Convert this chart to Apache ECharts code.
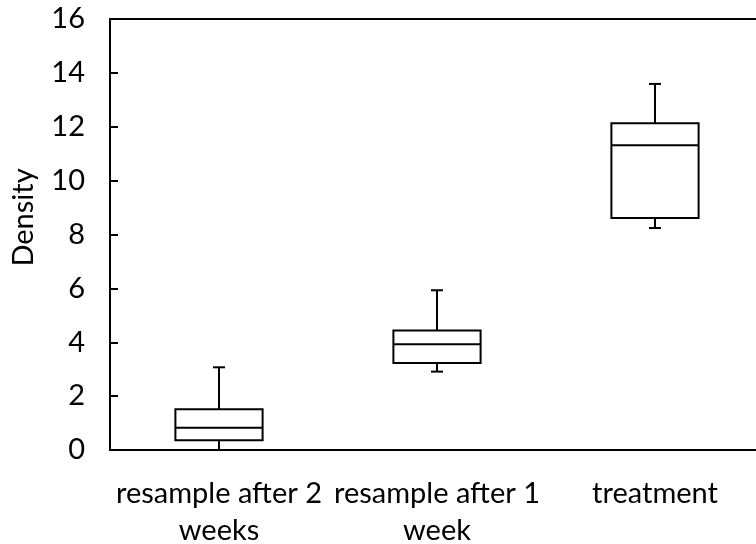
<!DOCTYPE html>
<html>
<head>
<meta charset="utf-8">
<script src="https://cdn.jsdelivr.net/npm/echarts@6/dist/echarts.min.js"></script>
<style>
  html, body { margin: 0; padding: 0; background: #fff; }
  .main { width: 756px; height: 544px; }
</style>
</head>
<body>
<div class="main" id="main"></div>
<script>
var categories = ['resample after 2\nweeks', 'resample after 1\nweek', 'treatment'];
var mins    = [0,    2.91, 8.24];
var q1s     = [0.36, 3.23, 8.61];
var medians = [0.83, 3.93, 11.31];
var q3s     = [1.51, 4.44, 12.13];
var maxs    = [3.07, 5.93, 13.59];
var yTicks  = [0, 2, 4, 6, 8, 10, 12, 14, 16];

var FONT = 'Lato';

function main() {
  var boxData = [];
  for (var i = 0; i < categories.length; i++) {
    boxData.push([i, mins[i], q1s[i], medians[i], q3s[i], maxs[i]]);
  }

  // box + whiskers drawn from the data through the axes
  function renderBox(params, api) {
    var x = api.value(0);
    var lo = api.coord([x, api.value(1)]);
    var b  = api.coord([x, api.value(2)]);
    var m  = api.coord([x, api.value(3)]);
    var t  = api.coord([x, api.value(4)]);
    var hi = api.coord([x, api.value(5)]);
    var w = api.size([1, 0])[0] * 0.4;
    var cap = 12;
    var cx = b[0];
    var st = { stroke: '#000', lineWidth: 2, fill: null };
    return {
      type: 'group',
      children: [
        { type: 'line', shape: { x1: cx, y1: t[1], x2: cx, y2: hi[1] }, style: st },
        { type: 'line', shape: { x1: cx - cap / 2, y1: hi[1], x2: cx + cap / 2, y2: hi[1] }, style: st },
        { type: 'line', shape: { x1: cx, y1: b[1], x2: cx, y2: lo[1] }, style: st },
        { type: 'line', shape: { x1: cx - cap / 2, y1: lo[1], x2: cx + cap / 2, y2: lo[1] }, style: st },
        { type: 'rect', shape: { x: cx - w / 2, y: t[1], width: w, height: b[1] - t[1] },
          style: { stroke: '#000', lineWidth: 2, fill: '#fff' } },
        { type: 'line', shape: { x1: cx - w / 2, y1: m[1], x2: cx + w / 2, y2: m[1] }, style: st }
      ]
    };
  }

  var myChart = echarts.init(document.getElementById('main'));

  var option = {
    animation: false,
    backgroundColor: '#fff',
    grid: {
      left: 110, top: 19, width: 654, bottom: 94,
      show: true, borderColor: '#000', borderWidth: 2,
      containLabel: false,
      outerBoundsMode: 'none'
    },
    xAxis: {
      type: 'category',
      data: categories,
      boundaryGap: true,
      axisLine: { lineStyle: { color: '#000', width: 2 } },
      axisTick: { inside: true, length: 8, lineStyle: { color: '#000', width: 2 } },
      axisLabel: {
        color: '#000', fontFamily: FONT, fontSize: 29,
        lineHeight: 37, margin: 25, interval: 0
      },
      splitLine: { show: false }
    },
    yAxis: {
      type: 'value',
      min: yTicks[0],
      max: yTicks[yTicks.length - 1],
      interval: 2,
      name: 'Density',
      nameLocation: 'middle',
      nameGap: 72,
      nameTextStyle: { color: '#000', fontFamily: FONT, fontSize: 29, padding: [0, 0, 0, 34] },
      axisLine: { show: true, lineStyle: { color: '#000', width: 2 } },
      axisTick: { show: true, inside: true, length: 8, lineStyle: { color: '#000', width: 2 } },
      axisLabel: { color: '#000', fontFamily: FONT, fontSize: 29, margin: 25 },
      splitLine: { show: false }
    },
    series: [{
      type: 'custom',
      renderItem: renderBox,
      encode: { x: 0, y: [1, 2, 3, 4, 5] },
      data: boxData
    }]
  };

  myChart.setOption(option);
}
main();
</script>
</body>
</html>
